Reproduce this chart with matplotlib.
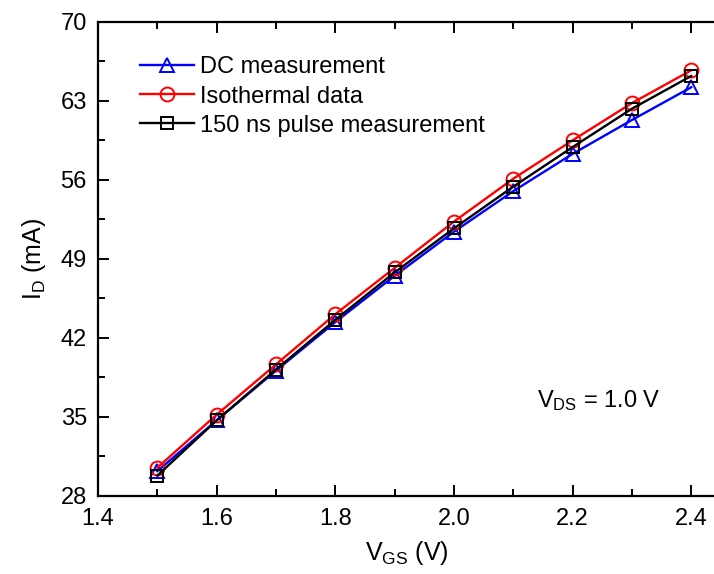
import numpy as np
import matplotlib
matplotlib.use("Agg")
import matplotlib.pyplot as plt

plt.rcParams['font.family'] = ['Liberation Sans', 'DejaVu Sans']
plt.rcParams['mathtext.default'] = 'regular'

# data
vgs = [1.5, 1.6, 1.7, 1.8, 1.9, 2.0, 2.1, 2.2, 2.3, 2.4]
dc = [30.2, 34.7, 39.1, 43.4, 47.5, 51.4, 55.0, 58.3, 61.3, 64.2]
iso = [30.5, 35.2, 39.65, 44.1, 48.2, 52.3, 56.1, 59.5, 62.8, 65.7]
pulse = [29.8, 34.7, 39.2, 43.6, 47.8, 51.7, 55.4, 58.9, 62.3, 65.2]

fig = plt.figure(figsize=(7.14, 5.74), dpi=100)
ax = fig.add_axes([0.1373, 0.136, 0.864, 0.826])

ax.plot(vgs, dc, '-^', color='blue', lw=1.7, ms=10, mfc='none', mew=1.4, label='DC measurement')
ax.plot(vgs, iso, '-o', color='red', lw=1.7, ms=10, mfc='none', mew=1.4, label='Isothermal data')
ax.plot(vgs, pulse, '-s', color='black', lw=1.7, ms=8, mfc='none', mew=1.4, label='150 ns pulse measurement')

ax.set_xlim(1.4, 2.44)
ax.set_ylim(28, 70)
ax.set_xticks(np.arange(1.4, 2.41, 0.2))
ax.set_xticks(np.arange(1.5, 2.41, 0.2), minor=True)
ax.set_yticks(np.arange(28, 71, 7))
ax.set_yticks(np.arange(31.5, 70, 7), minor=True)
ax.set_xticklabels(['1.4', '1.6', '1.8', '2.0', '2.2', '2.4'])
ax.tick_params(which='both', direction='in', top=True, right=False, labelsize=17, width=1.4)
ax.tick_params(which='major', length=8)
ax.tick_params(which='minor', length=5)
ax.tick_params(axis='x', pad=9)
ax.tick_params(axis='y', pad=8)
for s in ['left', 'bottom', 'top']:
    ax.spines[s].set_linewidth(1.6)
ax.spines['right'].set_visible(False)

ax.set_xlabel('$V_{GS}$ (V)', fontsize=18, labelpad=6)
ax.set_ylabel('$I_D$ (mA)', fontsize=18, labelpad=9)

ax.text(0.711, 0.188, '$V_{DS}$ = 1.0 V', transform=ax.transAxes, fontsize=17,
        ha='left', va='baseline')

ax.legend(loc='upper left', bbox_to_anchor=(0.068, 0.927), frameon=False, fontsize=17,
          handlelength=2.3, handletextpad=0.25, labelspacing=0.3, borderpad=0,
          borderaxespad=0)

fig.savefig('out.png', dpi=100)
